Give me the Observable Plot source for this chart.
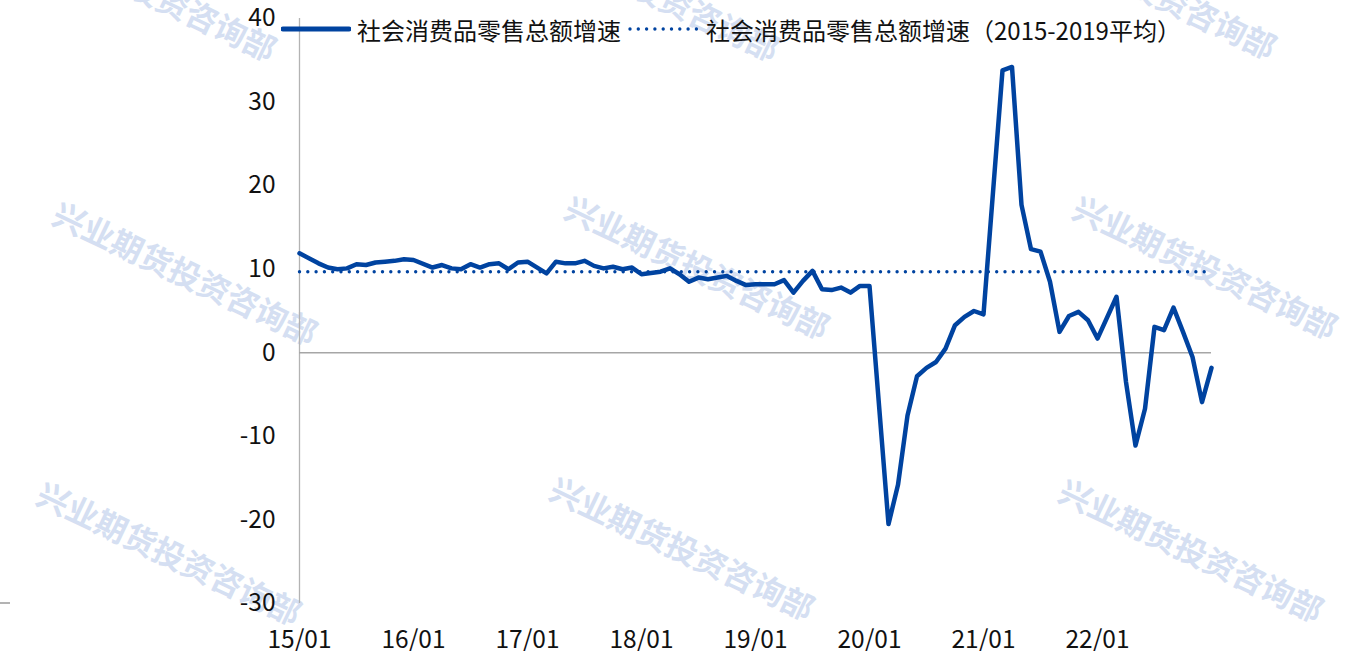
<!DOCTYPE html>
<html>
<head>
<meta charset="utf-8">
<script src="https://cdn.jsdelivr.net/npm/d3@7"></script>
<script src="https://cdn.jsdelivr.net/npm/@observablehq/plot@0.6"></script>
<style>
  html, body { margin: 0; padding: 0; background: #fff; }
  #wrap { position: relative; width: 1355px; height: 651px; overflow: hidden; background: #fff;
          font-family: "Noto Sans CJK SC", "Noto Sans", sans-serif; }
  .wm { position: absolute; white-space: nowrap; font-size: 32px; font-weight: bold; color: #d5dff2;
        transform: translate(-50%, -50%) rotate(25.5deg); z-index: 0; line-height: 1; }
  #chart { position: absolute; left: 0; top: 0; z-index: 1; }
  #legend { position: absolute; left: 281px; top: 12px; height: 34px; display: flex; align-items: center;
            z-index: 2; font-size: 24px; color: #111; white-space: nowrap; }
  #legend svg { display: block; }
  #stub { position: absolute; left: 0; top: 602px; width: 10px; height: 1.5px; background: #b3b3b3; z-index: 1; }
</style>
</head>
<body>
<div id="wrap">
  <div id="chart"></div>
  <div id="legend"></div>
  <div id="stub"></div>
</div>
<script>
// Months: index 0 = 2014-12, then Jan..Dec of 2015..2022 (January not published -> null)
const values2014 = [11.9];
const values2015 = [null, 10.7, 10.2, 10.0, 10.1, 10.6, 10.5, 10.8, 10.9, 11.0, 11.2, 11.1];
const values2016 = [null, 10.2, 10.5, 10.1, 10.0, 10.6, 10.2, 10.6, 10.7, 10.0, 10.8, 10.9];
const values2017 = [null, 9.5, 10.9, 10.7, 10.7, 11.0, 10.4, 10.1, 10.3, 10.0, 10.2, 9.4];
const values2018 = [null, 9.7, 10.1, 9.4, 8.5, 9.0, 8.8, 9.0, 9.2, 8.6, 8.1, 8.2];
const values2019 = [null, 8.2, 8.7, 7.2, 8.6, 9.8, 7.6, 7.5, 7.8, 7.2, 8.0, 8.0];
const values2020 = [null, -20.5, -15.8, -7.5, -2.8, -1.8, -1.1, 0.5, 3.3, 4.3, 5.0, 4.6];
const values2021 = [null, 33.8, 34.2, 17.7, 12.4, 12.1, 8.5, 2.5, 4.4, 4.9, 3.9, 1.7];
const values2022 = [null, 6.7, -3.5, -11.1, -6.7, 3.1, 2.7, 5.4, 2.5, -0.5, -5.9, -1.8];
const avg2015_2019 = 9.7;

const xLabels = ["15/01", "16/01", "17/01", "18/01", "19/01", "20/01", "21/01", "22/01"];
const yTicks = [-30, -20, -10, 0, 10, 20, 30, 40];
const seriesNames = ["社会消费品零售总额增速", "社会消费品零售总额增速（2015-2019平均）"];
const watermarkText = "兴业期货投资咨询部";

const allValues = [].concat(values2014, values2015, values2016, values2017, values2018,
                            values2019, values2020, values2021, values2022);
const lineData = allValues.map((v, i) => ({ i, v })).filter(d => d.v != null);
const avgData = allValues.map((v, i) => ({ i, v: avg2015_2019 }));
const tickIdx = xLabels.map((_, k) => k * 12);

const BLUE = "#0043a0";

const chart = Plot.plot({
  width: 1355,
  height: 651,
  marginLeft: 299,
  marginRight: 144,
  marginTop: 18,
  marginBottom: 48,
  style: { background: "transparent", fontFamily: "'Noto Sans CJK SC', 'Noto Sans', sans-serif", fontSize: "24.5px", color: "#111" },
  x: { domain: [0, allValues.length - 1], ticks: tickIdx, tickFormat: i => xLabels[i / 12], tickSize: 0, tickPadding: 27, label: null },
  y: { domain: [-30, 40], ticks: yTicks, tickFormat: d => String(d), tickSize: 0, tickPadding: 24, label: null },
  marks: [
    Plot.ruleX([0], { stroke: "#b3b3b3", strokeWidth: 1.3 }),
    Plot.ruleY([0], { stroke: "#a6a6a6", strokeWidth: 1.6 }),
    Plot.line(avgData, { x: "i", y: "v", stroke: BLUE, strokeWidth: 3.4, strokeDasharray: "0 8.3", strokeLinecap: "round" }),
    Plot.line(lineData, { x: "i", y: "v", stroke: BLUE, strokeWidth: 4.5, strokeLinejoin: "round" })
  ]
});
document.getElementById("chart").appendChild(chart);

// watermarks (decorative, behind chart)
const wmPos = [[145, -12], [648, -12], [1145, -14], [186, 272], [698, 266], [1206, 266], [170, 552], [683, 547], [1192, 549]];
const wrap = document.getElementById("wrap");
wmPos.forEach(([x, y]) => {
  const d = document.createElement("div");
  d.className = "wm";
  d.style.left = x + "px";
  d.style.top = y + "px";
  d.textContent = watermarkText;
  wrap.insertBefore(d, wrap.firstChild);
});

// legend
const legend = document.getElementById("legend");
legend.innerHTML =
  `<svg width="70" height="12"><line x1="2" y1="6" x2="68" y2="6" stroke="${BLUE}" stroke-width="5" stroke-linecap="round"/></svg>` +
  `<span style="margin-left:6px">${seriesNames[0]}</span>` +
  `<svg width="74" height="12" style="margin-left:7px"><line x1="2" y1="6" x2="72" y2="6" stroke="${BLUE}" stroke-width="3.4" stroke-dasharray="0 8.3" stroke-linecap="round"/></svg>` +
  `<span style="margin-left:4px">${seriesNames[1]}</span>`;
</script>
</body>
</html>
